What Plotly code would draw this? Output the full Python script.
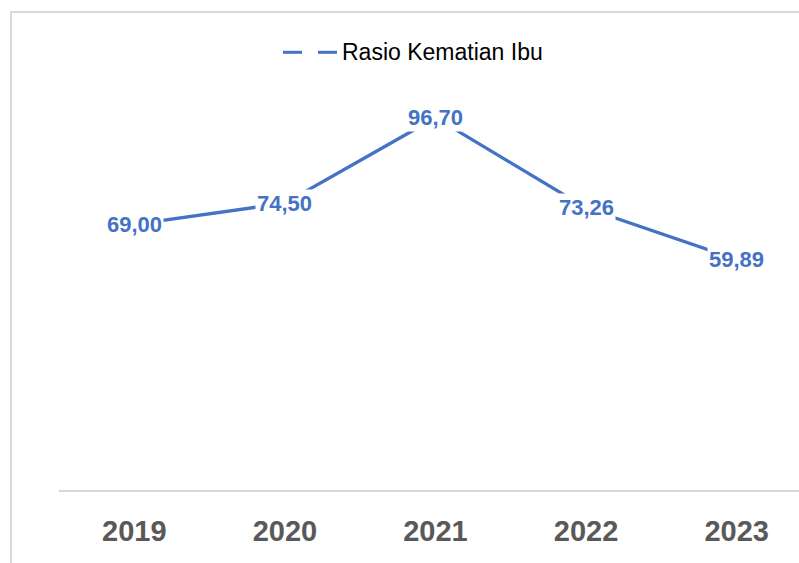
import plotly.graph_objects as go

# data
years = ["2019", "2020", "2021", "2022", "2023"]
rasio = [69.00, 74.50, 96.70, 73.26, 59.89]
series_name = "Rasio Kematian Ibu"

BLUE = "#4472c4"
W, H = 799, 563
L, T, B = 59, 105, 73

def px(x):
    return (x - L) / (W - L)

def py(y):
    return (H - B - y) / (H - B - T)

fig = go.Figure()
fig.add_trace(go.Scatter(
    x=years, y=rasio, mode="lines",
    line=dict(color=BLUE, width=3.3),
    showlegend=False, hoverinfo="skip",
))

# data labels sit on the points with a white box over the line
# (category index, since "2019" would be read as a number)
for i, v in enumerate(rasio):
    fig.add_annotation(
        x=i, y=v, xref="x", yref="y",
        text="<b>" + f"{v:.2f}".replace(".", ",") + "</b>",
        showarrow=False, bgcolor="white", borderpad=1,
        font=dict(family="Liberation Sans", size=22, color=BLUE),
    )

# hand-made legend (line with a gap, like the office legend key)
for x0, x1 in [(283, 302), (318, 337)]:
    fig.add_shape(type="line", xref="paper", yref="paper",
                  x0=px(x0), x1=px(x1), y0=py(52.3), y1=py(52.3),
                  line=dict(color=BLUE, width=3))
fig.add_annotation(
    x=px(340), y=py(52.5), xref="paper", yref="paper",
    xanchor="left", yanchor="middle", showarrow=False,
    text=series_name,
    font=dict(family="Liberation Sans", size=23, color="black"),
)

# chart frame
fig.add_shape(type="rect", xref="paper", yref="paper",
              x0=px(11), y0=py(12), x1=px(900), y1=py(700),
              line=dict(color="#d9d9d9", width=2), layer="below")

fig.update_xaxes(
    type="category", range=[-0.5, 4.414],
    showline=True, linecolor="#d9d9d9", linewidth=2,
    showgrid=False, zeroline=False, ticks="",
    ticklabelstandoff=14,
    tickfont=dict(family="Liberation Sans", size=29, color="#595959", weight="bold"),
)
fig.update_yaxes(range=[0, 100], showgrid=False, zeroline=False,
                 showline=False, showticklabels=False, ticks="")

fig.update_layout(
    width=W, height=H,
    margin=dict(l=L, r=0, t=T, b=B),
    paper_bgcolor="white", plot_bgcolor="white",
    showlegend=False,
)

fig.write_html("out.html", config={"displayModeBar": False},
               post_script="document.body.style.margin='0';")
